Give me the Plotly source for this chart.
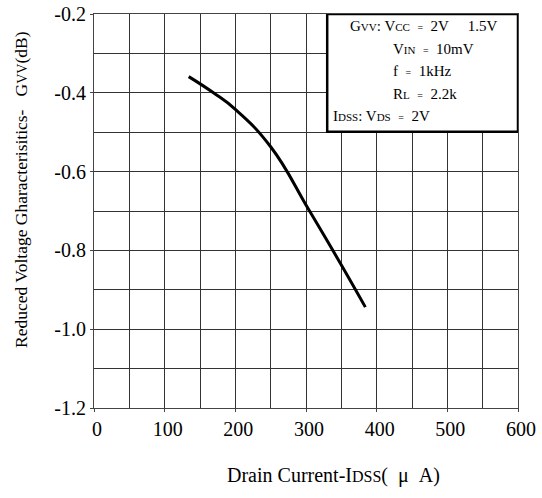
import plotly.graph_objects as go

# Data
idss = [134, 169, 200, 250, 304, 350, 384]
gvv = [-0.359, -0.400, -0.442, -0.537, -0.697, -0.837, -0.944]

x_ticks = [0, 100, 200, 300, 400, 500, 600]
x_ticklabels = ["0", "100", "200", "300", "400", "500", "600"]
y_ticks = [-1.2, -1.0, -0.8, -0.6, -0.4, -0.2]
y_ticklabels = ["-1.2", "-1.0", "-0.8", "-0.6", "-0.4", "-0.2"]

FONT = "Liberation Serif, Times New Roman, serif"
GRID = "#333333"

fig = go.Figure()
fig.add_trace(go.Scatter(
    x=idss, y=gvv, mode="lines",
    line=dict(color="black", width=3, shape="spline", smoothing=1.3),
    showlegend=False, hoverinfo="skip",
))

fig.update_layout(
    width=542, height=498,
    margin=dict(l=94, r=24, t=14, b=90, autoexpand=False),
    paper_bgcolor="white", plot_bgcolor="white",
    font=dict(family=FONT, color="black", size=20),
    showlegend=False,
)

fig.update_xaxes(
    range=[0, 600], tickvals=x_ticks, ticktext=x_ticklabels,
    showgrid=True, gridcolor=GRID, gridwidth=1, griddash="solid",
    minor=dict(dtick=50, tick0=0, showgrid=True, gridcolor=GRID, gridwidth=1, griddash="solid"),
    showline=True, linecolor="#444", linewidth=1, mirror=True,
    ticks="outside", ticklen=3, tickcolor="#444",
    tickfont=dict(family=FONT, size=20, color="black"),
    zeroline=False, ticklabelshift=3, automargin=False,
)
fig.update_yaxes(
    range=[-1.2, -0.2], tickvals=y_ticks, ticktext=y_ticklabels,
    showgrid=True, gridcolor=GRID, gridwidth=1, griddash="solid",
    minor=dict(dtick=0.1, tick0=-1.2, showgrid=True, gridcolor=GRID, gridwidth=1, griddash="solid"),
    showline=True, linecolor="#444", linewidth=1, mirror=True,
    ticks="outside", ticklen=3, tickcolor="#444",
    tickfont=dict(family=FONT, size=20, color="black"),
    zeroline=False, automargin=False,
)

# Condition box
fig.add_shape(type="rect", xref="x", yref="y", x0=330, x1=600, y0=-0.499, y1=-0.2,
              line=dict(color="black", width=2.5), fillcolor="white", layer="above")

S = "font-size:11px"
E = "font-size:10px"
nb = "\u00a0"
box_lines = [
    (359, -0.231, f"G<span style='{S}'>VV</span>: V<span style='{S}'>CC</span>{nb}{nb}<span style='{E}'>=</span>{nb}{nb}2V{nb}{nb}{nb}{nb}{nb}1.5V"),
    (420, -0.288, f"V<span style='{S}'>IN</span>{nb}{nb}<span style='{E}'>=</span>{nb}{nb}10mV"),
    (420, -0.344, f"f{nb}{nb}<span style='{E}'>=</span>{nb}{nb}1kHz"),
    (420, -0.404, f"R<span style='{S}'>L</span>{nb}{nb}<span style='{E}'>=</span>{nb}{nb}2.2k"),
    (335, -0.460, f"I<span style='{S}'>DSS</span>: V<span style='{S}'>DS</span>{nb}{nb}<span style='{E}'>=</span>{nb}{nb}2V"),
]
for bx, by, txt in box_lines:
    fig.add_annotation(x=bx, y=by, xref="x", yref="y", text=txt, showarrow=False,
                       xanchor="left", yanchor="middle",
                       font=dict(family=FONT, size=15, color="black"))

# Axis titles
fig.add_annotation(
    x=(333 - 94) / 424, y=(408 - 475) / 394, xref="paper", yref="paper",
    text=f"Drain Current-I<span style='font-size:16px'>DSS</span>(\u2002\u03bc\u2002A)",
    showarrow=False, xanchor="center", yanchor="middle",
    font=dict(family=FONT, size=20, color="black"))
fig.add_annotation(
    x=(21 - 94) / 424, y=(408 - 190) / 394, xref="paper", yref="paper",
    text=f"Reduced Voltage Gharacterisitics-{nb}{nb}{nb}G<span style='font-size:14px'>VV</span>(dB)",
    showarrow=False, textangle=-90, xanchor="center", yanchor="middle",
    font=dict(family=FONT, size=17.5, color="black"))

fig.write_html("out.html", config={"displayModeBar": False},
               post_script="document.body.style.margin='0';document.body.style.overflow='hidden';")
